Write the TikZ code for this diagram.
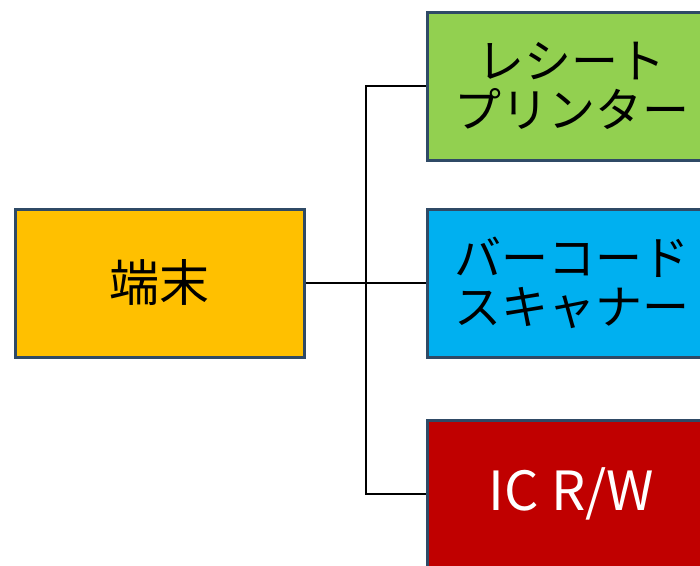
\documentclass[tikz,border=0pt]{standalone}
\usepackage{fontspec}
\setmainfont{Noto Sans CJK JP}
\usetikzlibrary{positioning}
\definecolor{edgeblue}{HTML}{2F4A66}
\definecolor{termfill}{HTML}{FFC000}
\definecolor{rcptfill}{HTML}{92D050}
\definecolor{scanfill}{HTML}{00B0F0}
\definecolor{icfill}{HTML}{C00000}
\tikzset{box/.style={draw=edgeblue, line width=3pt, minimum width=289pt, minimum height=148pt,
		inner sep=0pt, align=center, font=\fontsize{47}{49}\selectfont},
	wire/.style={draw=black, line width=1.2pt}}

\begin{document}
\begin{tikzpicture}[x=1pt, y=-1pt]
		\clip (0, 0) rectangle (700, 565);
		\fill[white] (0, 0) rectangle (700, 565);
		\begin{scope}[every node/.style={box}]
			\node[fill=termfill, font=\fontsize{50}{52}\selectfont](term) at (159.5, 283) {端末};
			\node[fill=rcptfill](rcpt) at (571.5, 86) {レシート\\プリンター};
			\node[fill=scanfill](scan) at (571.5, 283) {バーコード\\スキャナー};
			\node[fill=icfill, text=white, font=\fontsize{54}{56}\selectfont](ic) at (571.5, 494) {IC R/W};
		\end{scope}
		\coordinate (hub) at (366, 283);
		\begin{scope}[every path/.style={wire}]
			\draw (term) -- (scan);
			\draw (hub) |- (rcpt);
			\draw (hub) |- (ic);
		\end{scope}
	\end{tikzpicture}
\end{document}
